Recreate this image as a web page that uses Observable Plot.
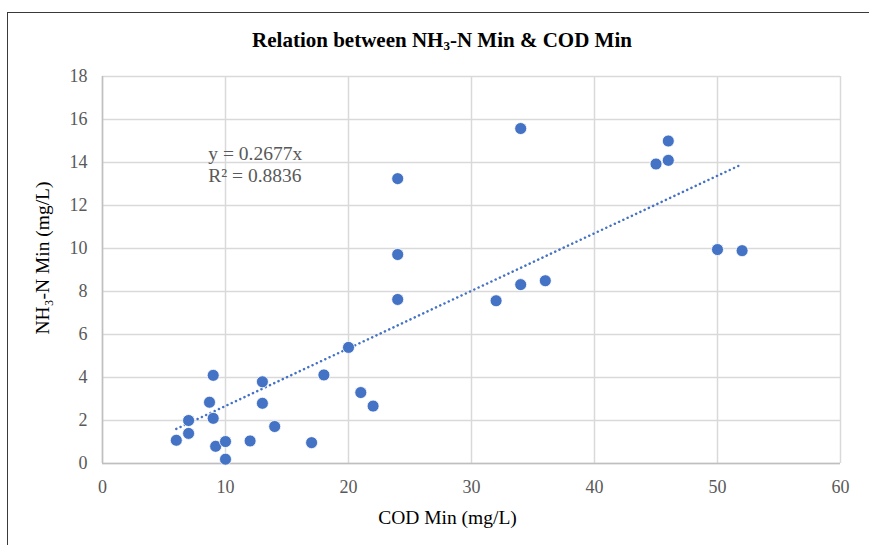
<!DOCTYPE html>
<html>
<head>
<meta charset="utf-8">
<script src="https://cdn.jsdelivr.net/npm/d3@7"></script>
<script src="https://cdn.jsdelivr.net/npm/@observablehq/plot@0.6"></script>
<style>
  html, body { margin: 0; padding: 0; background: #fff; width: 869px; height: 545px; overflow: hidden; }
  #frame { position: absolute; left: 7px; top: 12px; width: 900px; height: 600px; border: 1.5px solid #3a3a3a; box-sizing: border-box; }
  #title { position: absolute; left: 0; top: 28px; width: 884px; text-align: center; font-family: "Liberation Serif", serif; font-weight: bold; font-size: 21px; color: #000; }
  #title sub { font-size: 13px; vertical-align: -3px; line-height: 0; }
  #chart { position: absolute; left: 0; top: 60px; }
</style>
</head>
<body>
<div id="frame"></div>
<div id="title">Relation between NH<sub>3</sub>-N Min &amp; COD Min</div>
<div id="chart"></div>
<script>
// COD Min (mg/L)
const codMin = [6, 7, 7, 8.7, 9, 9, 9.2, 10, 10, 12, 13, 13, 14, 17, 18, 20, 21, 22, 24, 24, 24, 32, 34, 34, 36, 45, 46, 46, 50, 52];
// NH3-N Min (mg/L)
const nh3Min = [1.08, 1.4, 2.0, 2.85, 4.1, 2.1, 0.8, 1.02, 0.2, 1.05, 3.8, 2.8, 1.72, 0.97, 4.12, 5.4, 3.3, 2.67, 13.25, 9.72, 7.63, 7.57, 15.58, 8.32, 8.5, 13.93, 15.0, 14.1, 9.95, 9.9];
const trendSlope = 0.2677;
const rSquared = 0.8836;
const xTicks = [0, 10, 20, 30, 40, 50, 60];
const yTicks = [0, 2, 4, 6, 8, 10, 12, 14, 16, 18];
const xLabel = "COD Min (mg/L)";
const yLabel = "NH₃-N Min (mg/L)";

const points = codMin.map((x, i) => ({x, y: nh3Min[i]}));
const [xMin, xMax] = d3.extent(codMin);
const trend = [xMin, xMax].map(x => ({x, y: trendSlope * x}));
const eq = [
  {x: 8.6, y: 14.4, t: `y = ${trendSlope}x`},
  {x: 8.6, y: 13.38, t: `R² = ${rSquared}`}
];

const blue = "#4472C4";
const chart = Plot.plot({
  width: 869,
  height: 485,
  marginLeft: 102,
  marginRight: 29,
  marginTop: 16,
  marginBottom: 82,
  style: {fontFamily: "Liberation Serif, serif", fontSize: "18px", color: "#595959", background: "transparent"},
  x: {domain: [0, 60], ticks: xTicks},
  y: {domain: [0, 18], ticks: yTicks},
  marks: [
    Plot.gridX(xTicks, {stroke: "#d9d9d9", strokeOpacity: 1, strokeWidth: 1.5}),
    Plot.gridY(yTicks, {stroke: "#d9d9d9", strokeOpacity: 1, strokeWidth: 1.5}),
    Plot.ruleY([0], {stroke: "#bfbfbf", strokeWidth: 1.5}),
    Plot.ruleX([0], {stroke: "#bfbfbf", strokeWidth: 1.5}),
    Plot.axisX(xTicks, {tickSize: 0, tickPadding: 17, fontSize: 18, label: null, fill: "#595959"}),
    Plot.axisY(yTicks, {tickSize: 0, tickPadding: 15, fontSize: 18, label: null, fill: "#595959"}),
    Plot.text([xLabel], {frameAnchor: "bottom", dx: -24, dy: 60, fontSize: 19.5, fill: "#000"}),
    Plot.text([yLabel], {frameAnchor: "left", textAnchor: "middle", rotate: -90, dx: -60, dy: -12, fontSize: 19.5, fill: "#000"}),
    Plot.line(trend, {x: "x", y: "y", stroke: blue, strokeWidth: 2.5, strokeDasharray: "0.1,4.6", strokeLinecap: "round"}),
    Plot.dot(points, {x: "x", y: "y", r: 6, fill: blue, stroke: "white", strokeWidth: 0.8}),
    Plot.text(eq, {x: "x", y: "y", text: "t", textAnchor: "start", fontSize: 19.5, fill: "#595959"})
  ]
});
document.getElementById("chart").appendChild(chart);
</script>
</body>
</html>
